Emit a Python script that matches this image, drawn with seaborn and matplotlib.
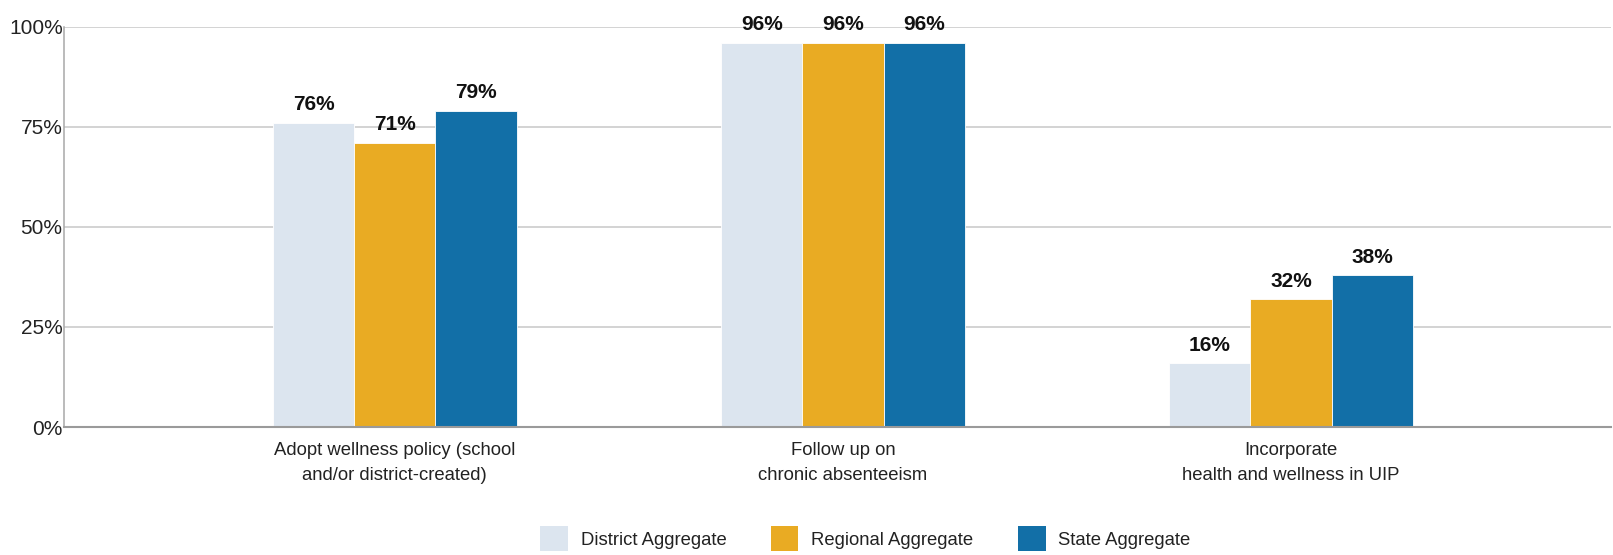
import matplotlib
matplotlib.use("Agg")
import matplotlib.pyplot as plt
import matplotlib.patches as mpatches
from matplotlib.ticker import FuncFormatter
import pandas as pd
import seaborn as sns

categories = [
    "Adopt wellness policy (school\nand/or district-created)",
    "Follow up on\nchronic absenteeism",
    "Incorporate\nhealth and wellness in UIP",
]
series_names = ["District Aggregate", "Regional Aggregate", "State Aggregate"]
district = [76, 96, 16]
regional = [71, 96, 32]
state = [79, 96, 38]
y_ticks = [0, 25, 50, 75, 100]
colors = ["#DCE5EF", "#E9AB23", "#126FA7"]

rows = []
for name, vals in zip(series_names, [district, regional, state]):
    for cat, v in zip(categories, vals):
        rows.append({"category": cat, "series": name, "value": v})
df = pd.DataFrame(rows)

sns.set_theme(style="white")
plt.rcParams["font.family"] = ["Liberation Sans", "DejaVu Sans"]

fig = plt.figure(figsize=(16.13, 5.55), dpi=100)
ax = fig.add_axes([0.0397, 0.2306, 0.9591, 0.7213])

sns.barplot(
    data=df, x="category", y="value", hue="series",
    order=categories, hue_order=series_names,
    palette=colors, width=0.544, gap=0, errorbar=None,
    edgecolor="white", linewidth=0.6, ax=ax, legend=False, saturation=1,
)

for cont in ax.containers:
    ax.bar_label(cont, fmt="%d%%", padding=6, fontsize=15,
                 fontweight="bold", color="#111111")

ax.set_ylim(0, 100)
ax.set_xlim(-0.738, 2.714)
ax.set_yticks(y_ticks)
ax.yaxis.set_major_formatter(FuncFormatter(lambda v, p: f"{v:.0f}%"))
ax.set_xticks(range(len(categories)))
ax.set_xticklabels(categories, linespacing=1.6)
ax.grid(axis="y", color="#C8C8C8", linewidth=1.1)
ax.set_axisbelow(True)
ax.set_xlabel("")
ax.set_ylabel("")
for s in ["top", "right"]:
    ax.spines[s].set_visible(False)
ax.spines["left"].set_color("#A8A8A8")
ax.spines["left"].set_linewidth(1.1)
ax.spines["bottom"].set_color("#9A9A9A")
ax.spines["bottom"].set_linewidth(1.5)
ax.tick_params(axis="y", length=0, labelsize=15, labelcolor="#222222", pad=1)
ax.tick_params(axis="x", length=0, labelsize=13.3, labelcolor="#222222", pad=11)

handles = [mpatches.Patch(facecolor=c, edgecolor="none", label=n)
           for c, n in zip(colors, series_names)]
fig.legend(
    handles=handles, loc="center", bbox_to_anchor=(0.5365, 0.029), ncol=3,
    frameon=False, fontsize=13.3, handlelength=1.5, handleheight=1.7,
    handletextpad=0.7, columnspacing=2.4, labelcolor="#222222",
    borderpad=0,
)

fig.savefig("out.png", dpi=100)
